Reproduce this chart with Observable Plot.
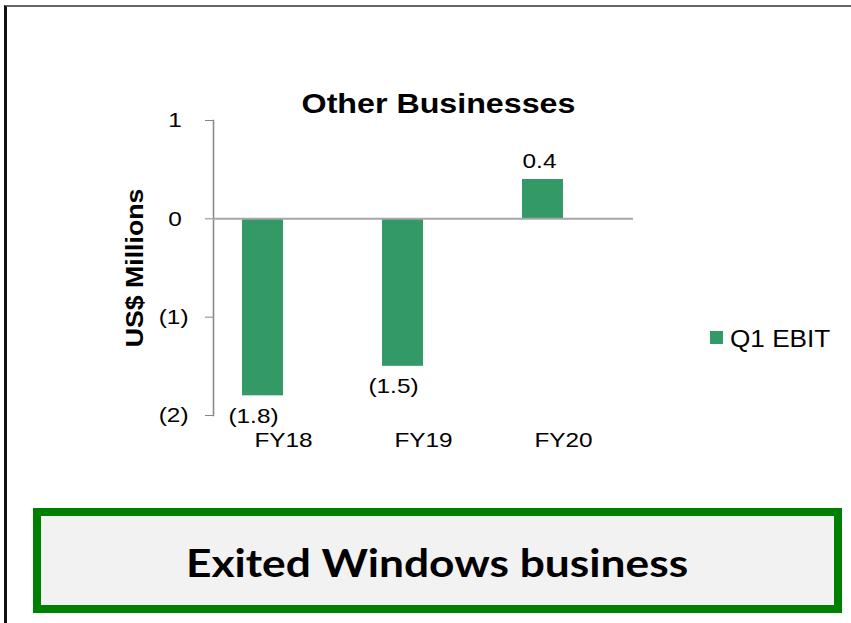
<!DOCTYPE html>
<html>
<head>
<meta charset="utf-8">
<script src="https://cdn.jsdelivr.net/npm/d3@7"></script>
<script src="https://cdn.jsdelivr.net/npm/@observablehq/plot@0.6"></script>
<style>
  html, body { margin: 0; padding: 0; background: #fff; }
  #wrap { position: relative; width: 851px; height: 623px; overflow: hidden; background: #fff; font-family: "Liberation Sans", Arial, sans-serif; }
  #frame { position: absolute; left: 4px; top: 5px; width: 900px; height: 700px; border-left: 3px solid #111; border-top: 2px solid #666; }
  #chart { position: absolute; left: 0; top: 0; }
  #legend-swatch { position: absolute; left: 710px; top: 331px; width: 13px; height: 13px; background: #339966; }
  #legend-text { position: absolute; left: 730px; top: 327px; font-size: 24px; line-height: 24px; color: #000; transform: scaleX(1.09); transform-origin: left center; white-space: nowrap; }
  #note { position: absolute; left: 33px; top: 508px; width: 809px; height: 105px; box-sizing: border-box; border: 8px solid #008000; background: #f2f2f2; display: flex; align-items: center; justify-content: center; }
  #note span { display: inline-block; font-family: Lato, "Open Sans", sans-serif; font-weight: 700; font-size: 39px; color: #000; white-space: nowrap; transform: scaleX(1.136); transform-origin: center center; margin-top: 2px; }
</style>
</head>
<body>
<div id="wrap">
  <div id="frame"></div>
  <div id="chart"></div>
  <div id="legend-swatch"></div>
  <div id="legend-text"></div>
  <div id="note"><span></span></div>
</div>
<script>
// ---- data ----
const categories = ["FY18", "FY19", "FY20"];
const ebit = [-1.8, -1.5, 0.4];
const valueLabels = ["(1.8)", "(1.5)", "0.4"];
const yTicks = [1, 0, -1, -2];
const yTickLabels = ["1", "0", "(1)", "(2)"];
const seriesName = "Q1 EBIT";
const chartTitle = "Other Businesses";
const yTitle = "US$ Millions";
const noteText = "Exited Windows business";

const data = categories.map((c, i) => ({cat: c, value: ebit[i], label: valueLabels[i]}));
const barColor = "#339966";
const axisGray = "#868686";

const plot = Plot.plot({
  width: 851,
  height: 470,
  marginLeft: 213,
  marginRight: 218,
  marginTop: 120,
  marginBottom: 55,
  style: {background: "transparent", fontFamily: "'Liberation Sans', Arial, sans-serif", color: "#000"},
  x: {domain: categories, padding: 0},
  y: {domain: [-2, 1]},
  marks: [
    Plot.frame({anchor: "left", stroke: axisGray, strokeWidth: 1.5}),
    Plot.barY(data, {x: "cat", y: "value", fill: barColor, insetLeft: 29, insetRight: 70}),
    Plot.ruleY([0], {stroke: "#a6a6a6", strokeWidth: 2}),
    Plot.text(data.filter(d => d.value < 0), {x: "cat", y: "value", text: "label", dx: -30, dy: 20, fontSize: 21, fill: "#000"}),
    Plot.text(data.filter(d => d.value >= 0), {x: "cat", y: "value", text: "label", dx: -24, dy: -18, fontSize: 21, fill: "#000"}),
    Plot.axisY({ticks: yTicks, tickFormat: v => yTickLabels[yTicks.indexOf(v)] + (v >= 0 ? "\u2008" : ""), tickSize: 8, tickPadding: 17, fontSize: 21, stroke: axisGray, label: null}),
    Plot.axisX({tickSize: 0, tickPadding: 17, fontSize: 21, label: null}),
    Plot.text([chartTitle], {text: d => d, frameAnchor: "top", textAnchor: "middle", lineAnchor: "bottom", dx: 15, dy: -8, fontSize: 28, fontWeight: "bold", fill: "#000"}),
    Plot.text([yTitle], {text: d => d, frameAnchor: "left", textAnchor: "middle", lineAnchor: "middle", rotate: -90, dx: -78, fontSize: 23, fontWeight: "bold", fill: "#000"})
  ]
});
document.getElementById("chart").appendChild(plot);

// widen glyphs slightly to match the reference's rendering
plot.querySelectorAll("text").forEach(t => {
  const s = t.textContent === chartTitle ? 1.15 : 1.16;
  const L = t.getComputedTextLength();
  if (L > 0) {
    t.setAttribute("textLength", (L * s).toFixed(2));
    t.setAttribute("lengthAdjust", "spacingAndGlyphs");
  }
});

document.getElementById("legend-text").textContent = seriesName;
document.querySelector("#note span").textContent = noteText;
</script>
</body>
</html>
